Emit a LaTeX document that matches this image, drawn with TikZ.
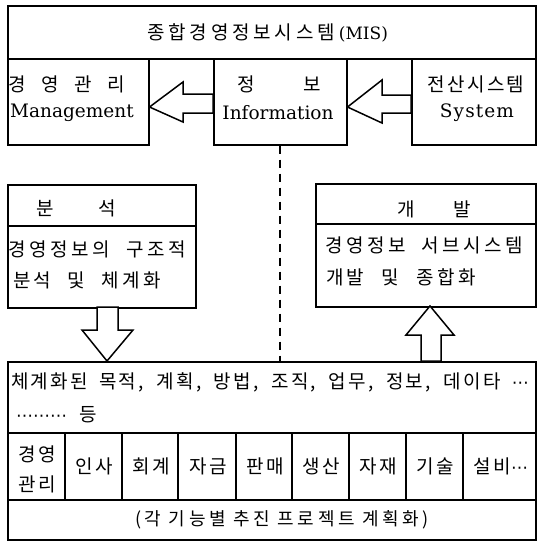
\documentclass[tikz,border=0pt]{standalone}
\usepackage{fontspec}
\newfontfamily\krf{Noto Sans CJK KR}[LetterSpace=12]
\newfontfamily\krt{Noto Sans CJK KR}[LetterSpace=20]
\newfontfamily\krw{Noto Sans CJK KR}[LetterSpace=18]
\newfontfamily\krn{Noto Sans CJK KR}[LetterSpace=20]
\newfontfamily\ser{DejaVu Serif}
\newfontfamily\dvs{DejaVu Sans}
\newcommand\kr{\krf\fontsize{19}{23}\selectfont}
\newcommand\krwide{\krw\fontsize{19}{23}\selectfont}
\newcommand\la{\ser\fontsize{18.5}{22}\selectfont}
\newcommand\spreadbox[2]{\makebox[#1][s]{#2}}
\newcommand\mdots{{\dvs\fontsize{17}{20}\selectfont ⋯}}
\begin{document}
\begin{tikzpicture}[x=1pt,y=-1pt,
  box/.style={draw,line width=1.5pt,inner sep=0pt,anchor=north west},
  txt/.style={inner sep=0pt,font=\kr},
  wtxt/.style={inner sep=0pt,font=\krwide},
  ltxt/.style={inner sep=0pt,font=\la},
  blk/.style={draw,line width=1.5pt,fill=white,line join=miter},
  ln/.style={line width=1.5pt}]
\useasboundingbox (0,0) rectangle (536,541);
% top group
\node[box,minimum width=528pt,minimum height=53pt] (mis) at (7,5) {};
\node[box,minimum width=141pt,minimum height=86pt] (mgmt) at (7,58) {};
\node[box,minimum width=133pt,minimum height=86pt] (info) at (213,58) {};
\node[box,minimum width=124pt,minimum height=86pt] (sys) at (411,58) {};
\node[inner sep=0pt,anchor=west] (t0) at (147,33) {\krt\fontsize{19}{23}\selectfont 종합경영정보시스템\hspace{4pt}{\ser\fontsize{17}{20}\selectfont(MIS)}};
\node[txt] (t1) at (67,84) {\spreadbox{116pt}{경 영 관 리}};
\node[ltxt] (t2) at (72,113) {Management};
\node[txt] (t3) at (279,84) {\spreadbox{83pt}{정 보}};
\node[ltxt] (t4) at (278,113) {Information};
\node[txt] (t5) at (476,84) {전산시스템};
\node[ltxt] (t6) at (477,113) {\addfontfeature{LetterSpace=6}System};
% block arrows (hollow)
\draw[blk] (mgmt.east |- 0,107) -- (183,82) -- (183,94) -- (info.west |- 0,94)
  -- (info.west |- 0,113) -- (183,113) -- (183,122) -- cycle;
\draw[blk] (info.east |- 0,107) -- (382,80) -- (382,95) -- (sys.west |- 0,95)
  -- (sys.west |- 0,113) -- (382,113) -- (382,123) -- cycle;
% analysis box
\node[box,minimum width=188pt,minimum height=41pt] (anh) at (7,184) {};
\node[box,minimum width=188pt,minimum height=82pt] (anb) at (7,225) {};
\node[txt] (t7) at (76,208) {\spreadbox{80pt}{분 석}};
\node[wtxt] (t8) at (97,249) {\spreadbox{177pt}{경영정보의 구조적}};
\node[wtxt] (t9) at (87,280) {\spreadbox{148pt}{분석 및 체계화}};
% development box
\node[box,minimum width=220pt,minimum height=40pt] (dvh) at (315,183) {};
\node[box,minimum width=220pt,minimum height=83pt] (dvb) at (315,223) {};
\node[txt] (t10) at (434,209) {\spreadbox{73pt}{개 발}};
\node[wtxt] (t11) at (424,245) {\spreadbox{197pt}{경영정보 서브시스템}};
\node[wtxt] (t12) at (401,277) {\spreadbox{150pt}{개발 및 종합화}};
% bottom box
\node[box,minimum width=528pt,minimum height=178pt] (bot) at (7,361) {};
\draw[ln] (7,433) -- (535,433);
\draw[ln] (7,500) -- (535,500);
\foreach \xx in {65,122,178,236,292,349,406,463} \draw[ln] (\xx,433) -- (\xx,500);
\node[txt] (t13) at (270,382) {\spreadbox{518pt}{체계화된 목적, 계획, 방법, 조직, 업무, 정보, 데이타 \mdots}};
\node[txt,anchor=west] (t14) at (16,415) {\mdots\mdots\mdots\hspace{12pt}등};
\node[txt] (c1a) at (37,454) {경영};
\node[txt] (c1b) at (37,484) {관리};
\node[txt] (c2) at (94.5,466) {인사};
\node[txt] (c3) at (151,466) {회계};
\node[txt] (c4) at (208,466) {자금};
\node[txt] (c5) at (265,466) {판매};
\node[txt] (c6) at (321.5,466) {생산};
\node[txt] (c7) at (378.5,466) {자재};
\node[txt] (c8) at (435.5,466) {기술};
\node[txt] (c9) at (501,466) {설비\mdots};
\node[inner sep=0pt,font=\krn\fontsize{18}{22}\selectfont] (t15) at (282,520) {\spreadbox{294pt}{(각 기능별 추진 프로젝트 계획화)}};
% vertical block arrows
\draw[blk] (107,361) -- (82,330) -- (97,330) -- (97,307) -- (118,307) -- (118,330) -- (133,330) -- cycle;
\draw[blk] (430,306) -- (406,335) -- (421,335) -- (421,361) -- (441,361) -- (441,335) -- (454,335) -- cycle;
% dashed link
\draw[line width=1.2pt,dash pattern=on 8pt off 6pt] (info.south -| 280,0) -- (bot.north -| 280,0);
\end{tikzpicture}
\end{document}
